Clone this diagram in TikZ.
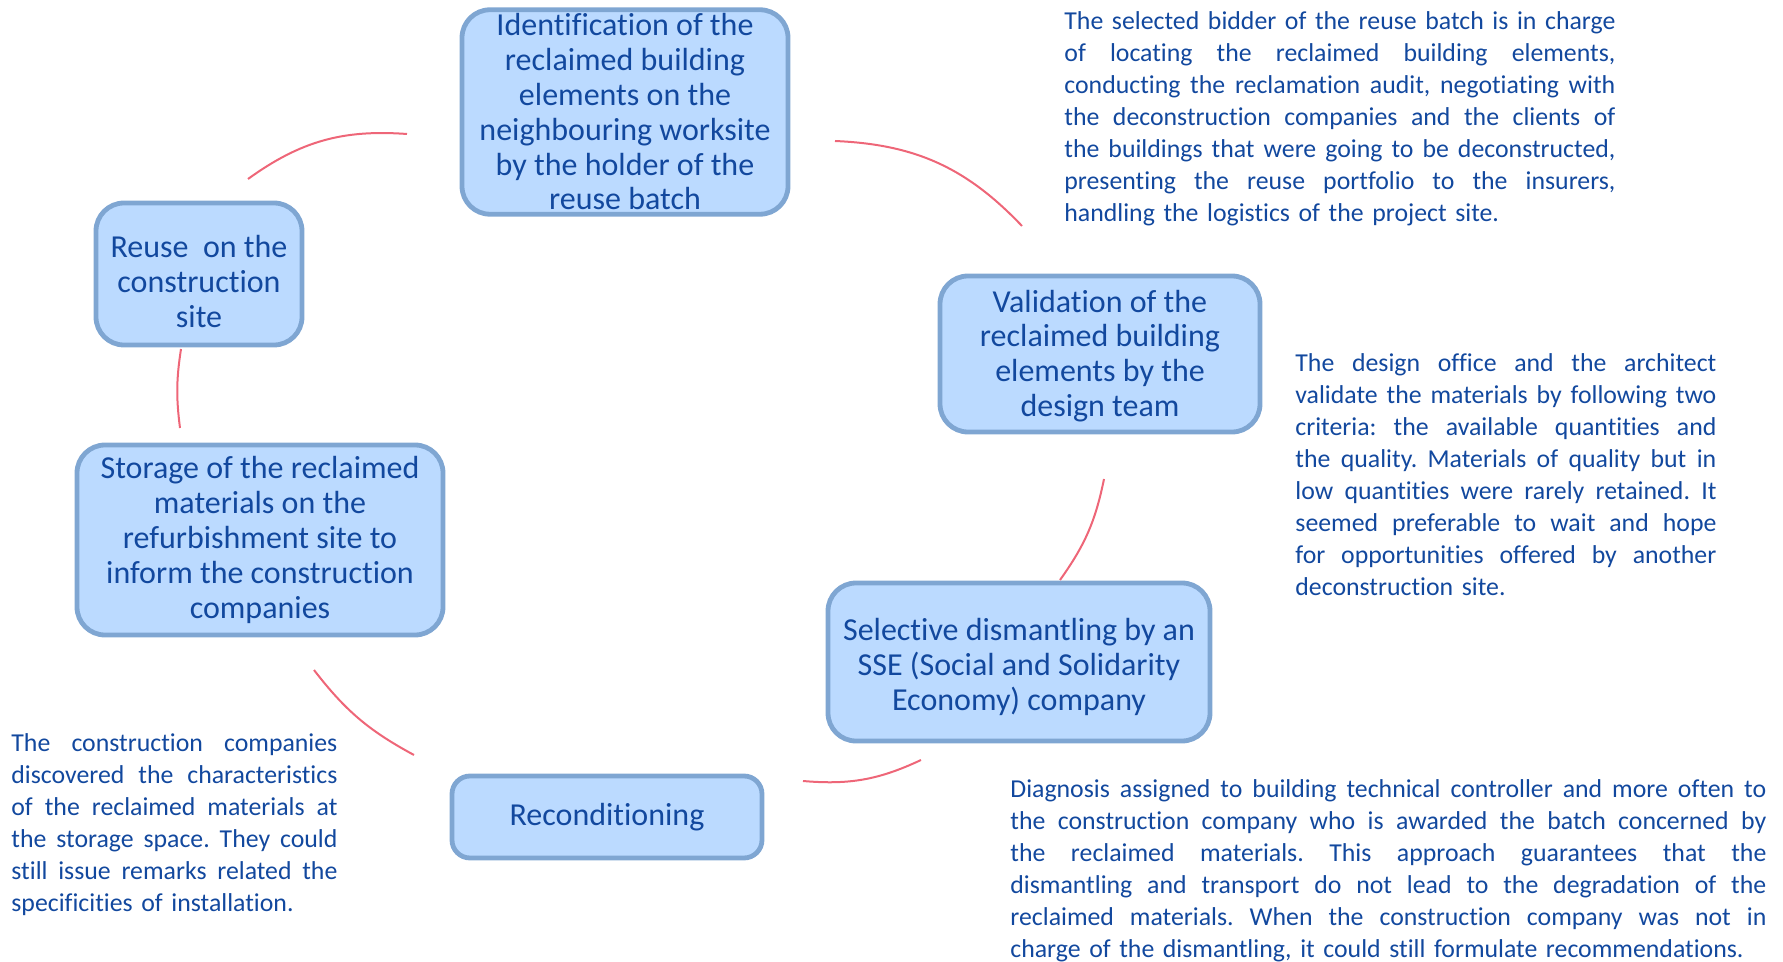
\documentclass[tikz,border=0pt]{standalone}
\usepackage{fontspec}
\setmainfont{Carlito}[Ligatures=NoCommon]
\frenchspacing
\definecolor{boxfill}{RGB}{187,218,255}
\definecolor{boxline}{RGB}{127,166,210}
\definecolor{txtblue}{RGB}{18,72,158}
\definecolor{arcred}{RGB}{238,102,120}
\newcommand\boxfont{\fontsize{16}{17.4}\selectfont}
\newcommand\notefont{\fontsize{12.9}{16}\selectfont}
\newlength\idW    \setlength\idW{275.5pt}
\newlength\valW   \setlength\valW{210.5pt}
\newlength\storW  \setlength\storW{163pt}
\newlength\selW   \setlength\selW{378pt}
\newcommand\jl[2]{\leavevmode\hbox to #1{\spaceskip=0.25em plus 1fil\relax #2}}
\tikzset{
  stage/.style={draw=boxline,fill=boxfill,line width=2.4pt,rounded corners=14pt,
    text=txtblue,font=\boxfont,align=center,inner sep=2pt},
  note/.style={text width=#1,inner sep=0pt,anchor=north west,align=left,
    text=txtblue,font=\notefont},
  cyc/.style={draw=arcred,line width=1pt},
}

\begin{document}
\begin{tikzpicture}[x=0.5pt,y=-0.5pt]
\useasboundingbox (0,0) rectangle (1783,962);
\node[stage,minimum width=163pt,minimum height=102pt] (ident) at (625,112)
  {Identification of the\\reclaimed building\\elements on the\\neighbouring worksite\\by the holder of the\\reuse batch};
\node[stage,minimum width=103pt,minimum height=71pt] (reuse) at (199,274)
  {\rule{0pt}{18.5pt}Reuse\ \ on the\\construction\\site};
\node[stage,minimum width=160pt,minimum height=78pt] (valid) at (1100,354)
  {\rule{0pt}{13pt}Validation of the\\reclaimed building\\elements by the\\design team};
\node[stage,minimum width=183pt,minimum height=95pt] (storage) at (260,540)
  {Storage of the reclaimed\\materials on the\\refurbishment site to\\inform the construction\\companies};
\node[stage,minimum width=191pt,minimum height=79pt] (select) at (1019,662)
  {\rule{0pt}{16pt}Selective dismantling by an\\SSE (Social and Solidarity\\Economy) company};
\node[stage,minimum width=155pt,minimum height=41pt,rounded corners=9pt] (recond) at (607,817)
  {Reconditioning};

\node[note=\idW] (idnote) at (1064,11)
  {\jl\idW{The selected bidder of the reuse batch is in charge}\\
   \jl\idW{of locating the reclaimed building elements,}\\
   \jl\idW{conducting the reclamation audit, negotiating with}\\
   \jl\idW{the deconstruction companies and the clients of}\\
   \jl\idW{the buildings that were going to be deconstructed,}\\
   \jl\idW{presenting the reuse portfolio to the insurers,}\\
   handling the logistics of the project site.};
\node[note=\valW] (valnote) at (1295,353)
  {\jl\valW{The design office and the architect}\\
   \jl\valW{validate the materials by following two}\\
   \jl\valW{criteria: the available quantities and}\\
   \jl\valW{the quality. Materials of quality but in}\\
   \jl\valW{low quantities were rarely retained. It}\\
   \jl\valW{seemed preferable to wait and hope}\\
   \jl\valW{for opportunities offered by another}\\
   deconstruction site.};
\node[note=\storW] (stornote) at (11,733)
  {\jl\storW{The construction companies}\\
   \jl\storW{discovered the characteristics}\\
   \jl\storW{of the reclaimed materials at}\\
   \jl\storW{the storage space. They could}\\
   \jl\storW{still issue remarks related the}\\
   specificities of installation.};
\node[note=\selW] (selnote) at (1010,779)
  {\jl\selW{Diagnosis assigned to building technical controller and more often to}\\
   \jl\selW{the construction company who is awarded the batch concerned by}\\
   \jl\selW{the reclaimed materials. This approach guarantees that the}\\
   \jl\selW{dismantling and transport do not lead to the degradation of the}\\
   \jl\selW{reclaimed materials. When the construction company was not in}\\
   charge of the dismantling, it could still formulate recommendations.};

\coordinate (a1s) at (248,179);  \coordinate (a1e) at (407,134);
\coordinate (a2s) at (835,141);  \coordinate (a2e) at (1022,226);
\coordinate (a3s) at (1104,479); \coordinate (a3e) at (1060,580);
\coordinate (a4s) at (921,760);  \coordinate (a4e) at (803,781);
\coordinate (a5s) at (414,755);  \coordinate (a5e) at (314,670);
\coordinate (a6s) at (180,428);  \coordinate (a6e) at (181,349);
\draw[cyc] (a1s) to[bend left=20] (a1e);
\draw[cyc] (a2s) to[bend left=22] (a2e);
\draw[cyc] (a3s) to[bend left=12] (a3e);
\draw[cyc] (a4s) to[bend left=15] (a4e);
\draw[cyc] (a5s) to[bend left=12] (a5e);
\draw[cyc] (a6s) to[bend left=8] (a6e);
\end{tikzpicture}
\end{document}
